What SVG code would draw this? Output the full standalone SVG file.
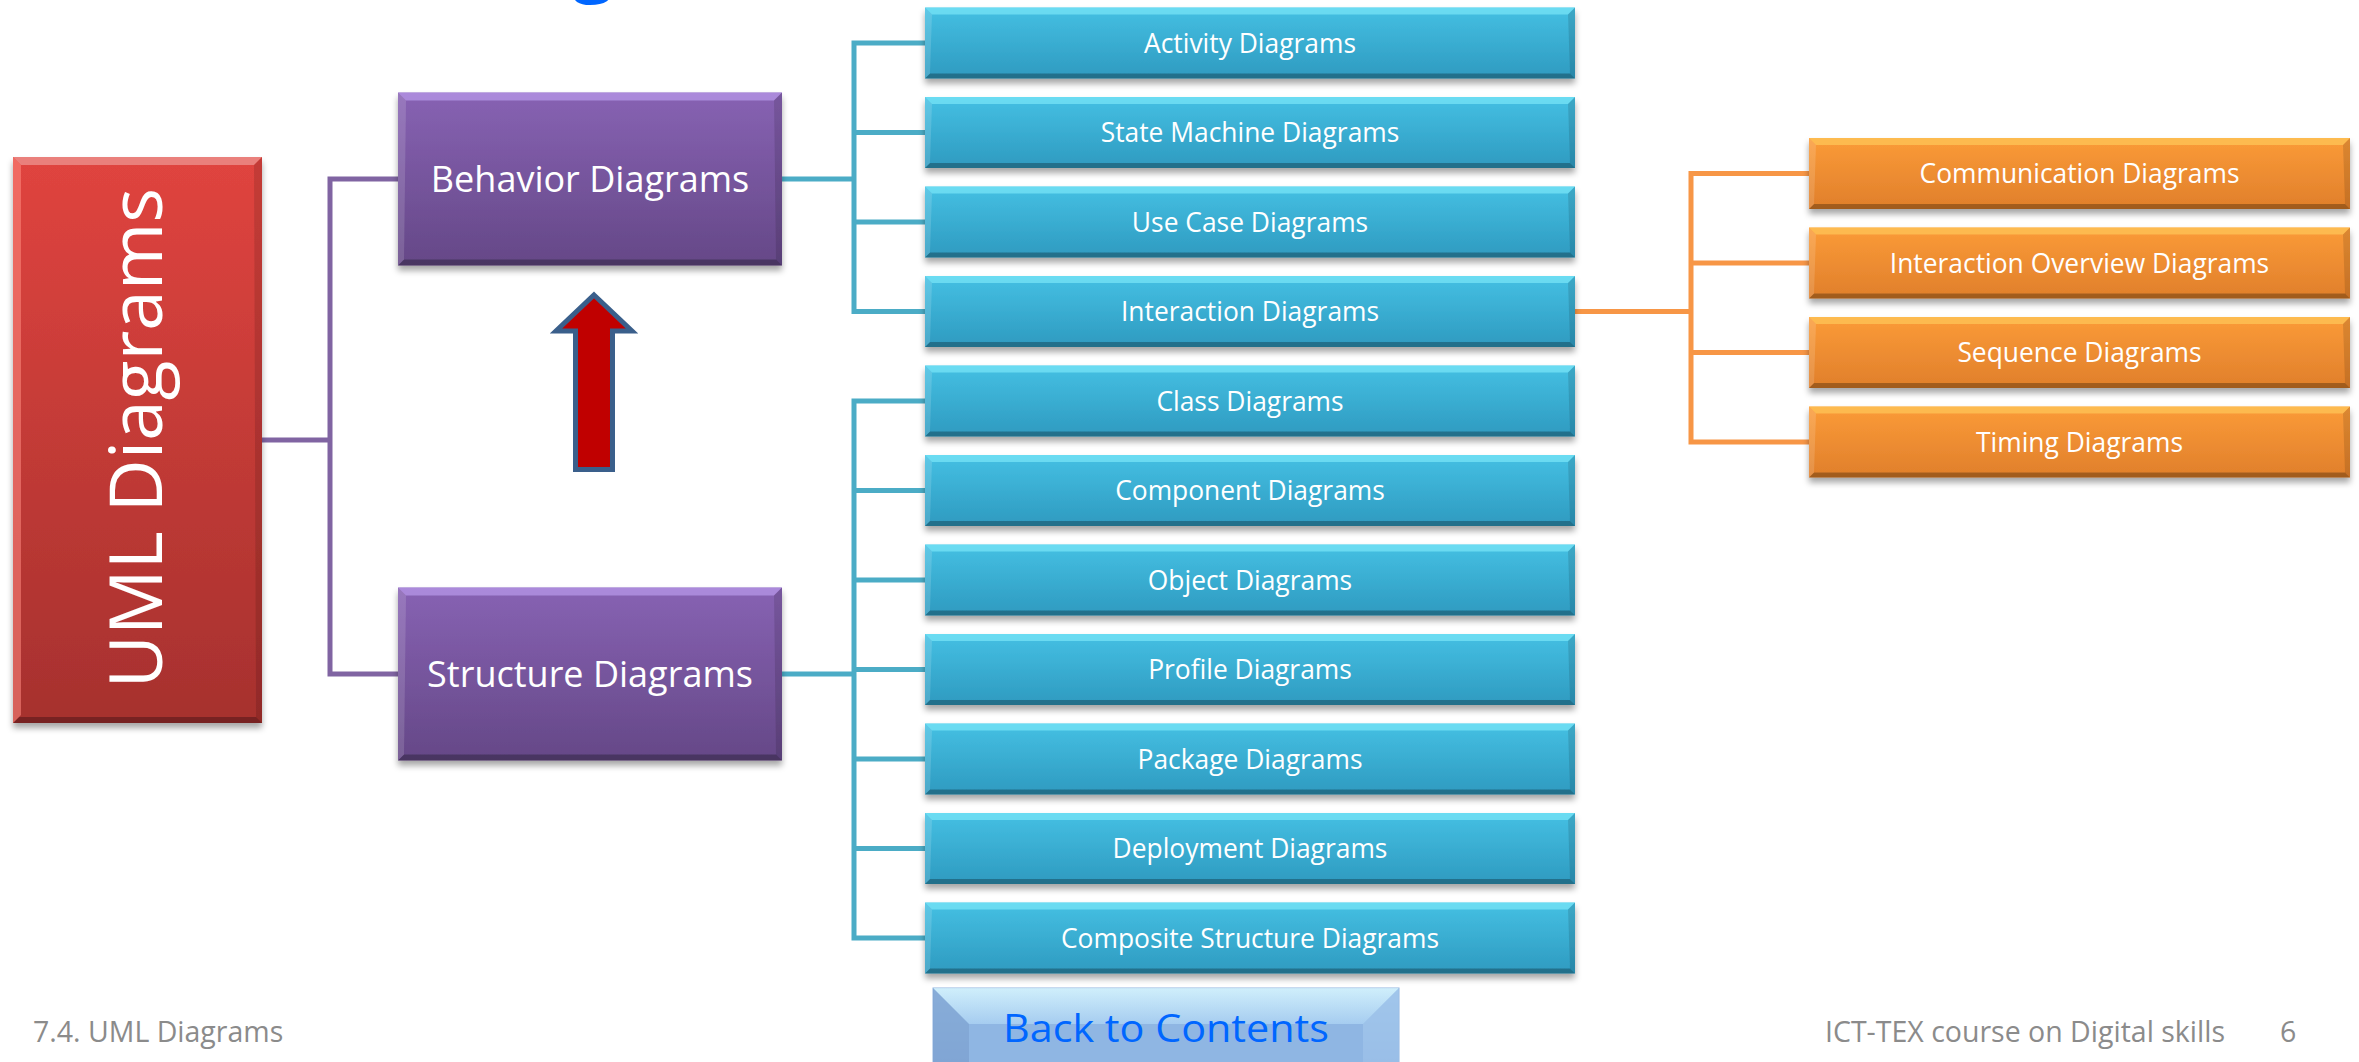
<svg xmlns="http://www.w3.org/2000/svg" xmlns:xlink="http://www.w3.org/1999/xlink" width="2359" height="1062" viewBox="0 0 2359 1062">
<style>
  text { font-family: "Open Sans", "Liberation Sans", sans-serif; }
  .lbl { fill: #FFFFFF; font-size: 26.4px; text-anchor: middle; }
  .big { fill: #FFFFFF; font-size: 36px; text-anchor: middle; }
  .foot { fill: #8B8B8B; font-size: 28.5px; }
  .bvT { fill: #FFFFFF; fill-opacity: 0.32; }
  .bvB { fill: #000000; fill-opacity: 0.28; }
  .bvL { fill: #FFFFFF; fill-opacity: 0.14; }
  .bvR { fill: #000000; fill-opacity: 0.12; }
  .conn { fill: none; stroke-width: 5; stroke-linejoin: miter; stroke-linecap: butt; }
  .cPurple { stroke: #8064A2; }
  .cCyan { stroke: #4BACC6; }
  .cOrange { stroke: #F79646; }
</style>
<defs>
  <linearGradient id="gBlue" x1="0" y1="0" x2="0" y2="1">
    <stop offset="0" stop-color="#45C0E3"/>
    <stop offset="1" stop-color="#2E9AC0"/>
  </linearGradient>
  <linearGradient id="gOrange" x1="0" y1="0" x2="0" y2="1">
    <stop offset="0" stop-color="#FB9B38"/>
    <stop offset="1" stop-color="#E07F2B"/>
  </linearGradient>
  <linearGradient id="gPurple" x1="0" y1="0" x2="0" y2="1">
    <stop offset="0" stop-color="#8762B3"/>
    <stop offset="1" stop-color="#654887"/>
  </linearGradient>
  <linearGradient id="gRed" x1="0" y1="0" x2="0" y2="1">
    <stop offset="0" stop-color="#E0443F"/>
    <stop offset="1" stop-color="#A6312E"/>
  </linearGradient>
  <linearGradient id="gBtn" x1="0" y1="0" x2="0" y2="1">
    <stop offset="0" stop-color="#B4DBF6"/>
    <stop offset="1" stop-color="#8AB2E0"/>
  </linearGradient>
  <linearGradient id="gBtnTop" x1="0" y1="0" x2="0" y2="1">
    <stop offset="0" stop-color="#E2FCFF"/>
    <stop offset="1" stop-color="#A9CFF2"/>
  </linearGradient>
  <filter id="shadow" x="-5%" y="-10%" width="110%" height="130%">
    <feDropShadow dx="0" dy="5" stdDeviation="3" flood-color="#000000" flood-opacity="0.35"/>
  </filter>
  <g id="shpBlue">
    <rect width="650" height="71" fill="url(#gBlue)"/>
    <polygon fill="#8AF2FF" fill-opacity="0.55" points="0,0 650,0 643,7 7,7"/>
    <polygon class="bvB" points="0,71 650,71 645,66 5,66"/>
    <polygon class="bvL" points="0,0 7,7 5,66 0,71"/>
    <polygon class="bvR" points="650,0 643,7 645,66 650,71"/>
  </g>
  <g id="shpOrange">
    <rect width="541" height="71" fill="url(#gOrange)"/>
    <polygon fill="#FFD060" fill-opacity="0.6" points="0,0 541,0 534,7 7,7"/>
    <polygon class="bvB" points="0,71 541,71 536,66 5,66"/>
    <polygon class="bvL" points="0,0 7,7 5,66 0,71"/>
    <polygon class="bvR" points="541,0 534,7 536,66 541,71"/>
  </g>
  <g id="shpPurple">
    <rect width="384" height="173" fill="url(#gPurple)"/>
    <polygon fill="#C3A4F5" fill-opacity="0.6" points="0,0 384,0 376,8 8,8"/>
    <polygon class="bvB" points="0,173 384,173 378,167 6,167"/>
    <polygon class="bvL" points="0,0 8,8 6,167 0,173"/>
    <polygon class="bvR" points="384,0 376,8 378,167 384,173"/>
  </g>
  <g id="shpRed">
    <rect width="249" height="566" fill="url(#gRed)"/>
    <polygon class="bvT" points="0,0 249,0 241,8 8,8"/>
    <polygon class="bvB" points="0,566 249,566 243,560 6,560"/>
    <polygon fill="#FF8A80" fill-opacity="0.55" points="0,0 8,8 8,558 0,566"/>
    <polygon class="bvR" points="249,0 241,8 243,560 249,566"/>
  </g>
</defs>

<rect x="0" y="0" width="2359" height="1062" fill="#FFFFFF"/>

<!-- partially visible title glyph (cut off at the top edge, as in the reference) -->
<text x="593" y="-14" font-size="80" fill="#0066FF" text-anchor="middle">g</text>

<g id="connectors">
  <path class="conn cPurple" d="M262,440 H330"/>
  <path class="conn cPurple" d="M398,179 H330 V674 H398"/>
  <path class="conn cCyan" d="M782,179 H854"/>
  <path class="conn cCyan" d="M925,43 H854 V311.5 H925"/>
  <path class="conn cCyan" d="M854,132.5 H925 M854,222 H925"/>
  <path class="conn cCyan" d="M782,674 H854"/>
  <path class="conn cCyan" d="M925,401 H854 V938 H925"/>
  <path class="conn cCyan" d="M854,490.5 H925 M854,580 H925 M854,669.5 H925 M854,759 H925 M854,848.5 H925"/>
  <path class="conn cOrange" d="M1575,311.5 H1691"/>
  <path class="conn cOrange" d="M1809,173.5 H1691 V442 H1809"/>
  <path class="conn cOrange" d="M1691,263 H1809 M1691,352.5 H1809"/>
</g>

<g id="uml-diagrams">
  <use href="#shpRed" x="13" y="157" filter="url(#shadow)"/>
  <text transform="translate(162,438) rotate(-90)" x="0" y="0" font-size="73" fill="#FFFFFF" text-anchor="middle">UML Diagrams</text>
</g>

<g id="behavior-diagrams">
  <use href="#shpPurple" x="398" y="92.5" filter="url(#shadow)"/>
  <text class="big" x="590" y="192">Behavior Diagrams</text>
</g>
<g id="structure-diagrams">
  <use href="#shpPurple" x="398" y="587.5" filter="url(#shadow)"/>
  <text class="big" x="590" y="687">Structure Diagrams</text>
</g>

<g id="up-arrow">
  <polygon points="594,295 632,331 612.5,331 612.5,469.5 575.5,469.5 575.5,331 556,331" fill="#C00000" stroke="#3A5F8B" stroke-width="5" stroke-linejoin="miter"/>
</g>

<g id="activity-diagrams">
  <use href="#shpBlue" x="925" y="7.5" filter="url(#shadow)"/>
  <text class="lbl" x="1250" y="52.5">Activity Diagrams</text>
</g>
<g id="state-machine-diagrams">
  <use href="#shpBlue" x="925" y="97" filter="url(#shadow)"/>
  <text class="lbl" x="1250" y="142">State Machine Diagrams</text>
</g>
<g id="use-case-diagrams">
  <use href="#shpBlue" x="925" y="186.5" filter="url(#shadow)"/>
  <text class="lbl" x="1250" y="231.5">Use Case Diagrams</text>
</g>
<g id="interaction-diagrams">
  <use href="#shpBlue" x="925" y="276" filter="url(#shadow)"/>
  <text class="lbl" x="1250" y="321">Interaction Diagrams</text>
</g>
<g id="class-diagrams">
  <use href="#shpBlue" x="925" y="365.5" filter="url(#shadow)"/>
  <text class="lbl" x="1250" y="410.5">Class Diagrams</text>
</g>
<g id="component-diagrams">
  <use href="#shpBlue" x="925" y="455" filter="url(#shadow)"/>
  <text class="lbl" x="1250" y="500">Component Diagrams</text>
</g>
<g id="object-diagrams">
  <use href="#shpBlue" x="925" y="544.5" filter="url(#shadow)"/>
  <text class="lbl" x="1250" y="589.5">Object Diagrams</text>
</g>
<g id="profile-diagrams">
  <use href="#shpBlue" x="925" y="634" filter="url(#shadow)"/>
  <text class="lbl" x="1250" y="679">Profile Diagrams</text>
</g>
<g id="package-diagrams">
  <use href="#shpBlue" x="925" y="723.5" filter="url(#shadow)"/>
  <text class="lbl" x="1250" y="768.5">Package Diagrams</text>
</g>
<g id="deployment-diagrams">
  <use href="#shpBlue" x="925" y="813" filter="url(#shadow)"/>
  <text class="lbl" x="1250" y="858">Deployment Diagrams</text>
</g>
<g id="composite-structure-diagrams">
  <use href="#shpBlue" x="925" y="902.5" filter="url(#shadow)"/>
  <text class="lbl" x="1250" y="947.5">Composite Structure Diagrams</text>
</g>

<g id="communication-diagrams">
  <use href="#shpOrange" x="1809" y="138" filter="url(#shadow)"/>
  <text class="lbl" x="2079.5" y="183">Communication Diagrams</text>
</g>
<g id="interaction-overview-diagrams">
  <use href="#shpOrange" x="1809" y="227.5" filter="url(#shadow)"/>
  <text class="lbl" x="2079.5" y="272.5">Interaction Overview Diagrams</text>
</g>
<g id="sequence-diagrams">
  <use href="#shpOrange" x="1809" y="317" filter="url(#shadow)"/>
  <text class="lbl" x="2079.5" y="362">Sequence Diagrams</text>
</g>
<g id="timing-diagrams">
  <use href="#shpOrange" x="1809" y="406.5" filter="url(#shadow)"/>
  <text class="lbl" x="2079.5" y="451.5">Timing Diagrams</text>
</g>

<g id="back-to-contents">
  <rect x="933" y="988" width="466" height="80" fill="url(#gBtn)" stroke="#8FB4E0" stroke-width="1"/>
  <polygon points="933,988 1399,988 1363,1024 969,1024" fill="url(#gBtnTop)" fill-opacity="0.6"/>
  <polygon points="933,988 969,1024 969,1068 933,1068" fill="#7DA1D1" fill-opacity="0.8"/>
  <polygon points="1399,988 1363,1024 1363,1068 1399,1068" fill="#9CC0E8" fill-opacity="0.8"/>
  <rect x="969" y="1024" width="394" height="44" fill="#8FB6E3"/>
  <text x="1003" y="1042" font-size="39" fill="#0066FF" textLength="326" lengthAdjust="spacingAndGlyphs">Back to Contents</text>
</g>

<g id="footer">
  <text class="foot" x="33" y="1042">7.4. UML Diagrams</text>
  <text class="foot" x="1825" y="1042">ICT-TEX course on Digital skills</text>
  <text class="foot" x="2280" y="1042">6</text>
</g>
</svg>
